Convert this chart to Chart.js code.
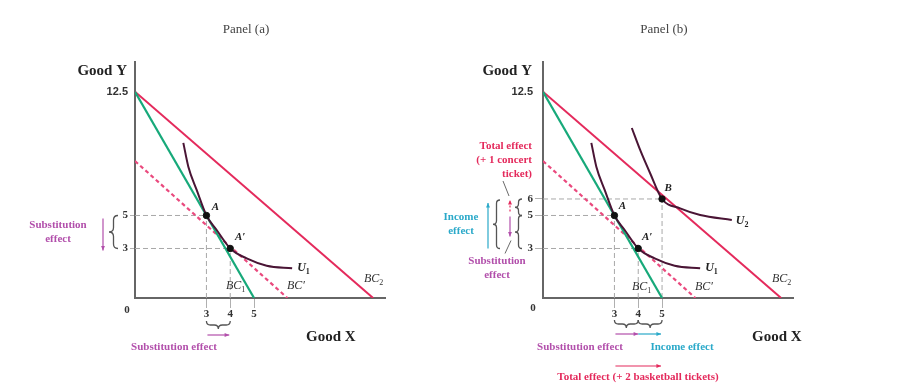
<!DOCTYPE html>
<html>
<head>
<meta charset="utf-8">
<script src="https://cdn.jsdelivr.net/npm/chart.js@4.4.1/dist/chart.umd.min.js"></script>
<style>
  html, body { margin: 0; padding: 0; background: #fff; }
  #wrap { position: relative; width: 918px; height: 391px; }
  #wrap canvas { position: absolute; left: 0; top: 0; }
</style>
</head>
<body>
<div id="wrap">
  <canvas id="panelA" width="918" height="391"></canvas>
  <canvas id="panelB" width="918" height="391"></canvas>
</div>
<script>
// budget lines, as (Good X, Good Y) end points
const bc1 = [[0, 12.5], [5, 0]];
const bc2 = [[0, 12.5], [10, 0]];
const bcPrime = [[0, 8.3], [6.4, 0]];

// indifference curves
const u1Points = [[2.03, 9.4], [2.24, 7.96], [2.59, 6.55], [3, 5], [3.43, 4.12], [4, 3], [4.69, 2.4], [5.53, 1.96], [6.6, 1.8]];
const u2Points = [[3.73, 10.3], [4.08, 8.97], [4.5, 7.56], [5, 6], [5.76, 5.43], [6.6, 5.03], [7.93, 4.73]];

// chosen bundles
const bundlesA = [{ name: "A", x: 3, y: 5 }, { name: "A′", x: 4, y: 3 }];
const bundlesB = [{ name: "A", x: 3, y: 5 }, { name: "A′", x: 4, y: 3 }, { name: "B", x: 5, y: 6 }];

// tick labels
const xTicks = [3, 4, 5];
const yTicksA = [12.5, 5, 3];
const yTicksB = [12.5, 6, 5, 3];

const serif = "'Liberation Serif', 'DejaVu Serif', serif";
const sans = "'Liberation Sans', Arial, sans-serif";
const RED = "#e42a5c";
const PINK = "#ea4a7e";
const GREEN = "#17a97a";
const PLUM = "#4a1535";
const MAGENTA = "#b24fab";
const CYAN = "#2aa9c9";

const toXY = (arr) => arr.map(([x, y]) => ({ x, y }));

// ---------- small drawing helpers ----------
function txt(ctx, str, x, y, opt = {}) {
  const { color = "#222", size = 11, weight = "bold", style = "normal", family = serif, align = "center" } = opt;
  ctx.save();
  ctx.font = `${style} ${weight} ${size}px ${family}`;
  ctx.fillStyle = color;
  ctx.textAlign = align;
  ctx.textBaseline = "middle";
  ctx.fillText(str, x, y);
  ctx.restore();
}

// label with a subscript, x is the left edge
function subLabel(ctx, base, sub, x, y, opt = {}) {
  const { color = "#333", weight = "normal" } = opt;
  ctx.save();
  ctx.font = `italic ${weight} 12px ${serif}`;
  ctx.fillStyle = color;
  ctx.textBaseline = "middle";
  ctx.textAlign = "left";
  ctx.fillText(base, x, y);
  const w = ctx.measureText(base).width;
  if (sub) {
    ctx.font = `normal ${weight} 8px ${serif}`;
    ctx.fillText(sub, x + w, y + 4);
  }
  ctx.restore();
}

// vertical curly brace, tip pointing left
function braceV(ctx, x, y1, y2, w, color) {
  const ym = (y1 + y2) / 2;
  const r = Math.min(w / 2, (y2 - y1) / 4);
  const xm = x + w / 2;
  ctx.save();
  ctx.strokeStyle = color;
  ctx.lineWidth = 1.3;
  ctx.beginPath();
  ctx.moveTo(x + w, y1);
  ctx.quadraticCurveTo(xm, y1, xm, y1 + r);
  ctx.lineTo(xm, ym - r);
  ctx.quadraticCurveTo(xm, ym, x, ym);
  ctx.quadraticCurveTo(xm, ym, xm, ym + r);
  ctx.lineTo(xm, y2 - r);
  ctx.quadraticCurveTo(xm, y2, x + w, y2);
  ctx.stroke();
  ctx.restore();
}

// horizontal curly brace, tip pointing down
function braceH(ctx, x1, x2, y, h, color) {
  const xm = (x1 + x2) / 2;
  const r = Math.min(h / 2, (x2 - x1) / 4);
  const ym = y + h / 2;
  ctx.save();
  ctx.strokeStyle = color;
  ctx.lineWidth = 1.3;
  ctx.beginPath();
  ctx.moveTo(x1, y);
  ctx.quadraticCurveTo(x1, ym, x1 + r, ym);
  ctx.lineTo(xm - r, ym);
  ctx.quadraticCurveTo(xm, ym, xm, y + h);
  ctx.quadraticCurveTo(xm, ym, xm + r, ym);
  ctx.lineTo(x2 - r, ym);
  ctx.quadraticCurveTo(x2, ym, x2, y);
  ctx.stroke();
  ctx.restore();
}

function arrow(ctx, x1, y1, x2, y2, color, dash) {
  const a = Math.atan2(y2 - y1, x2 - x1);
  ctx.save();
  ctx.strokeStyle = color;
  ctx.fillStyle = color;
  ctx.lineWidth = 1.2;
  if (dash) ctx.setLineDash(dash);
  ctx.beginPath();
  ctx.moveTo(x1, y1);
  ctx.lineTo(x2, y2);
  ctx.stroke();
  ctx.setLineDash([]);
  ctx.beginPath();
  ctx.moveTo(x2, y2);
  ctx.lineTo(x2 - 5 * Math.cos(a - 0.4), y2 - 5 * Math.sin(a - 0.4));
  ctx.lineTo(x2 - 5 * Math.cos(a + 0.4), y2 - 5 * Math.sin(a + 0.4));
  ctx.closePath();
  ctx.fill();
  ctx.restore();
}

function leader(ctx, x1, y1, x2, y2) {
  ctx.save();
  ctx.strokeStyle = "#444";
  ctx.lineWidth = 0.8;
  ctx.beginPath();
  ctx.moveTo(x1, y1);
  ctx.lineTo(x2, y2);
  ctx.stroke();
  ctx.restore();
}

// ---------- datasets ----------
const guideStyle = {
  borderColor: "#a8a8a8", borderWidth: 1, borderDash: [5, 3],
  pointRadius: 0, showLine: true, order: 4,
};

function guideSets(bundles) {
  const sets = [];
  bundles.forEach((b) => {
    sets.push({ data: [{ x: 0, y: b.y }, { x: b.x, y: b.y }], ...guideStyle });
    sets.push({ data: [{ x: b.x, y: 0 }, { x: b.x, y: b.y }], ...guideStyle });
  });
  return sets;
}

const curveStyle = { borderColor: PLUM, borderWidth: 2, pointRadius: 0, showLine: true, cubicInterpolationMode: "monotone", order: 1 };

function buildDatasets(bundles, withU2) {
  const sets = [
    ...guideSets(bundles),
    { data: toXY(bcPrime), borderColor: PINK, borderWidth: 2.2, borderDash: [4, 3], pointRadius: 0, showLine: true, order: 3 },
    { data: toXY(bc2), borderColor: RED, borderWidth: 2, pointRadius: 0, showLine: true, order: 3 },
    { data: toXY(bc1), borderColor: GREEN, borderWidth: 2.2, pointRadius: 0, showLine: true, order: 2 },
    { data: toXY(u1Points), ...curveStyle },
  ];
  if (withU2) sets.push({ data: toXY(u2Points), ...curveStyle });
  sets.push({
    data: bundles.map((b) => ({ x: b.x, y: b.y })),
    backgroundColor: "#111", borderColor: "#111", pointRadius: 3.2, showLine: false, order: 0,
  });
  return sets;
}

function buildScales(axisLeft, yTicks, tickLen) {
  const tickFont = (c) =>
    c.tick && c.tick.value === 12.5
      ? { family: sans, size: 11, weight: "bold" }
      : { family: serif, size: 11, weight: "bold" };
  const tickColor = (c) => (c.tick && c.tick.value === 12.5 ? "rgba(0,0,0,0)" : "#b0b0b0");
  return {
    x: {
      type: "linear", min: 0, max: 10.5,
      afterFit: (axis) => { axis.height = 93; },
      afterBuildTicks: (axis) => { axis.ticks = xTicks.map((v) => ({ value: v })); },
      ticks: { color: "#333", font: tickFont, padding: 0, maxRotation: 0, autoSkip: false },
      grid: { drawOnChartArea: false, tickLength: 10, color: "#b0b0b0" },
      border: { color: "#666", width: 2 },
    },
    y: {
      type: "linear", min: 0, max: 14.3,
      afterFit: (axis) => { axis.width = axisLeft; },
      afterBuildTicks: (axis) => { axis.ticks = yTicks.map((v) => ({ value: v })); },
      ticks: { color: "#333", font: tickFont, padding: 2, autoSkip: false },
      grid: { drawOnChartArea: false, tickLength: tickLen, color: tickColor },
      border: { color: "#666", width: 2 },
    },
  };
}

function makeChart(id, cfg) {
  return new Chart(document.getElementById(id), {
    type: "scatter",
    data: { datasets: cfg.datasets },
    options: {
      responsive: false,
      animation: false,
      layout: { padding: { top: 62, right: cfg.padRight, left: 0, bottom: 0 } },
      plugins: { legend: { display: false }, tooltip: { enabled: false } },
      scales: cfg.scales,
    },
    plugins: [{ id: "notes", afterDatasetsDraw: (chart) => cfg.notes(chart) }],
  });
}

// ---------- Panel (a) ----------
makeChart("panelA", {
  datasets: buildDatasets(bundlesA, false),
  scales: buildScales(135, yTicksA, 5),
  padRight: 918 - 385,
  notes(chart) {
    const { ctx } = chart;
    const xs = chart.scales.x, ys = chart.scales.y;
    const X = (v) => xs.getPixelForValue(v), Y = (v) => ys.getPixelForValue(v);

    txt(ctx, "Panel (a)", 246, 30, { size: 13, weight: "normal", color: "#444" });
    txt(ctx, "Good Y", 127, 71, { size: 15, align: "right" });
    txt(ctx, "Good X", 306, 337, { size: 15, align: "left" });
    txt(ctx, "0", 127, 310, { color: "#333" });

    // substitution effect along Y
    braceV(ctx, 109, Y(5), Y(3), 9, "#555");
    arrow(ctx, 103, Y(5) + 3, 103, Y(3) + 2, MAGENTA);
    txt(ctx, "Substitution", 58, 225, { color: MAGENTA });
    txt(ctx, "effect", 58, 239, { color: MAGENTA });

    // substitution effect along X
    braceH(ctx, X(3), X(4), 321, 8, "#555");
    arrow(ctx, X(3) + 1, 335, X(4) - 1, 335, MAGENTA);
    txt(ctx, "Substitution effect", 174, 347, { color: MAGENTA });

    // curve and point labels
    bundlesA.forEach((b, i) => {
      const dx = i === 0 ? 9 : 10, dy = i === 0 ? -8 : -11;
      txt(ctx, b.name, X(b.x) + dx, Y(b.y) + dy, { style: "italic", size: 11, align: "center" });
    });
    const u1End = u1Points[u1Points.length - 1];
    subLabel(ctx, "U", "1", X(u1End[0]) + 5, Y(u1End[1]), { weight: "bold", color: "#222" });
    subLabel(ctx, "BC", "1", 226, 286);
    subLabel(ctx, "BC′", "", 287, 286);
    subLabel(ctx, "BC", "2", 364, 279);
  },
});

// ---------- Panel (b) ----------
makeChart("panelB", {
  datasets: buildDatasets(bundlesB, true),
  scales: buildScales(543, yTicksB, 8),
  padRight: 918 - 793,
  notes(chart) {
    const { ctx } = chart;
    const xs = chart.scales.x, ys = chart.scales.y;
    const X = (v) => xs.getPixelForValue(v), Y = (v) => ys.getPixelForValue(v);

    txt(ctx, "Panel (b)", 664, 30, { size: 13, weight: "normal", color: "#444" });
    txt(ctx, "Good Y", 532, 71, { size: 15, align: "right" });
    txt(ctx, "Good X", 752, 337, { size: 15, align: "left" });
    txt(ctx, "0", 533, 308, { color: "#333" });

    // effects along Y
    txt(ctx, "Total effect", 532, 146, { color: RED, align: "right" });
    txt(ctx, "(+ 1 concert", 532, 160, { color: RED, align: "right" });
    txt(ctx, "ticket)", 532, 174, { color: RED, align: "right" });
    leader(ctx, 503, 181, 509, 196);
    arrow(ctx, 510, Y(5) - 4, 510, Y(6) + 1, RED, [2, 2]);
    arrow(ctx, 510, Y(5) + 1, 510, Y(3) - 12, MAGENTA);
    leader(ctx, 511, Y(3) - 8, 505, Y(3) + 5);
    txt(ctx, "Substitution", 497, 261, { color: MAGENTA });
    txt(ctx, "effect", 497, 275, { color: MAGENTA });
    arrow(ctx, 488, Y(3), 488, Y(6) + 4, CYAN);
    txt(ctx, "Income", 461, 217, { color: CYAN });
    txt(ctx, "effect", 461, 231, { color: CYAN });
    braceV(ctx, 493, Y(6) + 1, Y(3), 7, "#555");
    braceV(ctx, 515, Y(6), Y(5), 7, "#555");
    braceV(ctx, 515, Y(5), Y(3), 7, "#555");

    // effects along X
    braceH(ctx, X(3), X(4), 320, 8, "#555");
    braceH(ctx, X(4), X(5), 320, 8, "#555");
    arrow(ctx, X(3) + 1, 334, X(4), 334, MAGENTA);
    arrow(ctx, X(4), 334, X(5) - 1, 334, CYAN);
    txt(ctx, "Substitution effect", 580, 347, { color: MAGENTA });
    txt(ctx, "Income effect", 682, 347, { color: CYAN });
    arrow(ctx, X(3) + 1, 366, X(5) - 1, 366, RED);
    txt(ctx, "Total effect (+ 2 basketball tickets)", 638, 377, { color: RED });

    // curve and point labels
    const offs = { "A": [8, -9], "A′": [9, -11], "B": [6, -11] };
    bundlesB.forEach((b) => {
      const [dx, dy] = offs[b.name];
      txt(ctx, b.name, X(b.x) + dx, Y(b.y) + dy, { style: "italic", size: 11 });
    });
    const u1End = u1Points[u1Points.length - 1];
    const u2End = u2Points[u2Points.length - 1];
    subLabel(ctx, "U", "1", X(u1End[0]) + 5, Y(u1End[1]), { weight: "bold", color: "#222" });
    subLabel(ctx, "U", "2", X(u2End[0]) + 4, Y(u2End[1]) + 1, { weight: "bold", color: "#222" });
    subLabel(ctx, "BC", "1", 632, 287);
    subLabel(ctx, "BC′", "", 695, 287);
    subLabel(ctx, "BC", "2", 772, 279);
  },
});
</script>
</body>
</html>
